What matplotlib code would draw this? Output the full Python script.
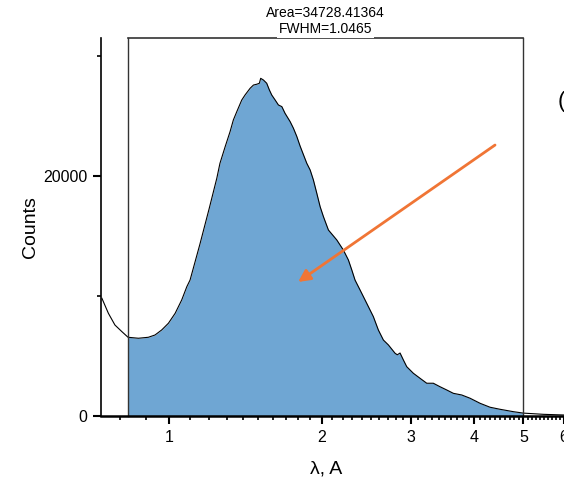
import matplotlib
matplotlib.use("Agg")
import matplotlib.pyplot as plt
import matplotlib.transforms as mtransforms
from matplotlib.ticker import FixedLocator, FixedFormatter
import numpy as np

plt.rcParams['font.family'] = ['Liberation Sans', 'DejaVu Sans']

# Spectrum (wavelength in A, counts)
wavelength = [0.737, 0.759, 0.782, 0.807, 0.830, 0.870, 0.910, 0.938, 0.967, 0.997,
              1.028, 1.059, 1.084, 1.100, 1.150, 1.200, 1.242, 1.260, 1.290, 1.319,
              1.339, 1.360, 1.391, 1.412, 1.445, 1.467, 1.490, 1.507, 1.516, 1.535,
              1.558, 1.577, 1.594, 1.619, 1.643, 1.669, 1.693, 1.733, 1.759, 1.786,
              1.813, 1.840, 1.869, 1.898, 1.926, 1.956, 1.986, 2.016, 2.062, 2.142,
              2.207, 2.258, 2.293, 2.327, 2.381, 2.454, 2.529, 2.587, 2.647, 2.708,
              2.791, 2.820, 2.855, 2.900, 2.943, 3.033, 3.127, 3.223, 3.321, 3.423,
              3.529, 3.637, 3.779, 3.924, 4.106, 4.297, 4.496, 4.777, 5.000, 5.473,
              5.996, 6.600]
counts = [9810, 8560, 7580, 7030, 6560, 6480, 6560, 6750, 7170, 7730,
          8560, 9670, 10780, 11330, 14300, 17300, 19810, 21060, 22440, 23690,
          24670, 25360, 26330, 26750, 27310, 27580, 27650, 27730, 28140, 28000,
          27730, 27170, 26750, 26330, 25920, 25780, 25230, 24530, 23980, 23300,
          22500, 21800, 21060, 20500, 19670, 18560, 17440, 16610, 15500, 14670,
          13830, 13000, 12170, 11330, 10500, 9390, 8280, 7170, 6330, 5920,
          5230, 5100, 5250, 4650, 4110, 3560, 3140, 2730, 2730, 2440,
          2170, 1890, 1750, 1480, 1060, 730, 560, 360, 240, 140,
          85, 60]

# integration window and its results
window = (0.83, 5.0)
area_text = "Area=34728.41364"
fwhm_text = "FWHM=1.0465"

x_ticks = [1, 2, 3, 4, 5, 6]
x_labels = ["1", "2", "3", "4", "5", "6"]
y_ticks = [0, 20000]
y_minor = [10000, 30000]

x = np.array(wavelength)
y = np.array(counts)

fig = plt.figure(figsize=(5.64, 4.83), dpi=100)
ax = fig.add_axes([101 / 564, 67 / 483, 496.5 / 564, 378 / 483])
ax.set_xscale('log')
ax.set_xlim(0.734, 7.0)
ax.set_ylim(0, 31500)

# filled integration region and spectrum line
inside = (x >= window[0]) & (x <= window[1])
ax.fill_between(x[inside], 0, y[inside], color='#6fa6d3', lw=0)
ax.plot(x, y, color='black', lw=0.8)

# box around the integration window
box_col = '#333333'
ax.plot([window[0], window[0]], [0, 31500], color=box_col, lw=1, clip_on=False)
ax.plot([window[1], window[1]], [0, 31500], color=box_col, lw=1, clip_on=False)
ax.plot([window[0], window[1]], [31500, 31500], color=box_col, lw=1.2, clip_on=False)

trans = mtransforms.blended_transform_factory(ax.transData, ax.transAxes)
x_mid = np.sqrt(window[0] * window[1])
ax.text(x_mid, 1.066, area_text, transform=trans, ha='center', va='center', fontsize=10)
ax.text(x_mid, 1.024, fwhm_text, transform=trans, ha='center', va='center', fontsize=10,
        bbox=dict(boxstyle='square,pad=0.12', fc='white', ec='none'), zorder=5)

# orange arrow
ax.annotate('', xy=(1.797, 11170), xytext=(4.395, 22580),
            arrowprops=dict(arrowstyle='-|>', color='#f07535', lw=2, mutation_scale=18,
                            shrinkA=0, shrinkB=0))

# axes styling
for side in ['top', 'right']:
    ax.spines[side].set_visible(False)
ax.spines['left'].set_linewidth(1.2)
ax.spines['bottom'].set_linewidth(1.8)

ax.xaxis.set_major_locator(FixedLocator(x_ticks))
ax.xaxis.set_major_formatter(FixedFormatter(x_labels))
minor = [v / 10 for v in range(7, 10)] + [v / 10 for v in range(11, 70) if v % 10 != 0]
ax.xaxis.set_minor_locator(FixedLocator(minor))
ax.xaxis.set_minor_formatter(FixedFormatter([]))
ax.set_yticks(y_ticks)
ax.set_yticks(y_minor, minor=True)

ax.tick_params(axis='both', which='major', direction='out', length=6, width=1.5,
               labelsize=11.5, pad=4)
ax.tick_params(axis='both', which='minor', direction='out', length=3, width=1.2)

ax.set_xlabel('λ, A', fontsize=14, labelpad=10)
ax.set_ylabel('Counts', fontsize=14, labelpad=6)
ax.xaxis.set_label_coords((326 - 101) / 496.5, -44 / 378)
ax.yaxis.set_label_coords(-62 / 496.5, (416 - 227) / 378)

# panel label, cut off at the right edge
fig.text(558 / 564, 1 - 101 / 483, '(a)', fontsize=16, va='center', ha='left')

fig.savefig('out.png', dpi=100)
